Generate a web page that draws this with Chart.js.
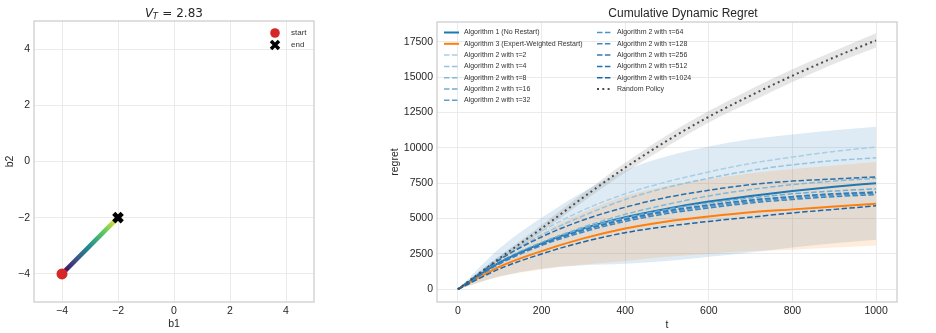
<!DOCTYPE html>
<html>
<head>
<meta charset="utf-8">
<script src="https://cdn.jsdelivr.net/npm/chart.js@4.4.1/dist/chart.umd.min.js"></script>
<style>
  html, body { margin: 0; padding: 0; background: #fff; }
  #traj { position: absolute; left: 0; top: 0; }
  #regret { position: absolute; left: 380px; top: 0; }
</style>
</head>
<body>
<canvas id="traj" width="330" height="333"></canvas>
<canvas id="regret" width="556" height="333"></canvas>
<script>
// ---- left plot: parameter trajectory ----
const bTicks = [-4, -2, 0, 2, 4];
const pathB1 = [-4, -2];
const pathB2 = [-4, -2];
const startPoint = { x: -4, y: -4 };
const endPoint = { x: -2, y: -2 };
const variationTotal = "2.83";

// ---- right plot: cumulative regret ----
const tSteps = [0, 100, 200, 300, 400, 500, 600, 700, 800, 900, 1000];
const tTicks = [0, 200, 400, 600, 800, 1000];
const regretTicks = [0, 2500, 5000, 7500, 10000, 12500, 15000, 17500];

const alg1Mean = [0, 1900, 3250, 4300, 5100, 5700, 6200, 6600, 6950, 7250, 7500];
const alg1Std = [0, 1000, 1800, 2600, 3300, 3700, 3900, 4000, 4000, 4000, 4000];
const alg3Mean = [0, 1600, 2700, 3600, 4300, 4800, 5150, 5450, 5650, 5850, 6050];
const alg3Std = [0, 700, 1300, 1850, 2300, 2500, 2650, 2750, 2850, 2900, 2950];
const randomMean = [0, 2200, 4300, 6500, 8600, 10500, 12200, 13700, 15100, 16400, 17600];
const randomStd = [0, 150, 250, 300, 350, 400, 400, 450, 450, 450, 500];

const alg2Tau2 = [0, 2300, 4100, 5600, 6750, 7600, 8300, 8900, 9350, 9750, 10050];
const alg2Tau4 = [0, 2150, 3850, 5200, 6350, 7200, 7850, 8400, 8800, 9100, 9300];
const alg2Tau8 = [0, 1900, 3300, 4400, 5300, 6000, 6600, 7050, 7400, 7650, 7850];
const alg2Tau16 = [0, 1950, 3300, 4300, 5050, 5650, 6100, 6450, 6750, 6950, 7100];
const alg2Tau32 = [0, 1900, 3200, 4200, 4950, 5500, 5950, 6300, 6550, 6750, 6900];
const alg2Tau64 = [0, 1850, 3150, 4150, 4900, 5450, 5850, 6200, 6450, 6650, 6800];
const alg2Tau128 = [0, 1800, 3100, 4050, 4800, 5350, 5750, 6100, 6350, 6550, 6700];
const alg2Tau256 = [0, 1900, 3200, 4200, 4950, 5550, 5950, 6300, 6550, 6750, 6850];
const alg2Tau512 = [0, 2100, 3700, 4900, 5800, 6500, 7000, 7400, 7650, 7800, 7950];
const alg2Tau1024 = [0, 1450, 2500, 3350, 4000, 4450, 4800, 5100, 5400, 5650, 5900];

const tauValues = [2, 4, 8, 16, 32, 64, 128, 256, 512, 1024];
const alg2Series = [alg2Tau2, alg2Tau4, alg2Tau8, alg2Tau16, alg2Tau32,
                    alg2Tau64, alg2Tau128, alg2Tau256, alg2Tau512, alg2Tau1024];
const alg2Colors = ["#a9cfe5", "#94c4df", "#7fb9da", "#6aaed6", "#59a1cf",
                    "#4a94c8", "#3c87c0", "#2f7bb9", "#2470b2", "#1c64a8"];

Chart.defaults.font.family = '"Liberation Sans", Arial, sans-serif';
Chart.defaults.color = "#262626";

const GRID = "#ebebeb";
const SPINE = "#cccccc";
const TEXT = "#262626";
const TICK_FONT = { size: 10.5 };
const LABEL_FONT = { size: 10.5 };

const minusSign = (v) => String(v).replace("-", "\u2212");

// frame around plot area, like matplotlib spines
const framePlugin = {
  id: "frame",
  afterDatasetsDraw(chart) {
    const { ctx, chartArea: a } = chart;
    ctx.save();
    ctx.strokeStyle = SPINE;
    ctx.lineWidth = 1.25;
    ctx.strokeRect(a.left, a.top, a.right - a.left, a.bottom - a.top);
    ctx.restore();
  },
};

const toXY = (ys) => tSteps.map((t, i) => ({ x: t, y: ys[i] }));

// ------------------ left chart ------------------
const viridis = ["#440154", "#3b528b", "#21918c", "#5ec962", "#fde725"];

const trajTitle = {
  id: "trajTitle",
  afterDraw(chart) {
    const ctx = chart.ctx;
    const a = chart.chartArea;
    ctx.save();
    ctx.fillStyle = TEXT;
    ctx.textBaseline = "alphabetic";
    const big = '12px "DejaVu Sans"';
    const bigIt = 'italic 12px "DejaVu Sans"';
    const sub = 'italic 8.5px "DejaVu Sans"';
    const rest = " = " + variationTotal;
    ctx.font = bigIt; const wV = ctx.measureText("V").width;
    ctx.font = sub; const wT = ctx.measureText("T").width;
    ctx.font = big; const wR = ctx.measureText(rest).width;
    let x = (a.left + a.right) / 2 - (wV + wT + wR) / 2;
    const base = 16.5;
    ctx.font = bigIt; ctx.fillText("V", x, base); x += wV - 0.5;
    ctx.font = sub; ctx.fillText("T", x, base + 2.5); x += wT + 0.5;
    ctx.font = big; ctx.fillText(rest, x, base);

    // legend: start / end
    const mx = a.right - 39;
    ctx.font = '8px "Liberation Sans", Arial, sans-serif';
    ctx.textBaseline = "middle";
    ctx.fillStyle = "#d62728";
    ctx.beginPath(); ctx.arc(mx, 33, 4.8, 0, Math.PI * 2); ctx.fill();
    ctx.strokeStyle = "#000"; ctx.lineWidth = 3.5;
    ctx.beginPath();
    ctx.moveTo(mx - 4, 45 - 4); ctx.lineTo(mx + 4, 45 + 4);
    ctx.moveTo(mx + 4, 45 - 4); ctx.lineTo(mx - 4, 45 + 4);
    ctx.stroke();
    ctx.fillStyle = "#333";
    ctx.fillText("start", a.right - 23, 33);
    ctx.fillText("end", a.right - 23, 45);
    ctx.restore();
  },
};

new Chart(document.getElementById("traj"), {
  type: "scatter",
  data: {
    datasets: [
      {
        label: "path",
        type: "line",
        data: pathB1.map((b, i) => ({ x: b, y: pathB2[i] })),
        borderWidth: 4.5,
        pointRadius: 0,
        borderCapStyle: "butt",
        borderColor: (c) => {
          const ch = c.chart;
          const xs = ch.scales.x, ys = ch.scales.y;
          if (!xs || !ys) return viridis[2];
          const x0 = xs.getPixelForValue(pathB1[0]), y0 = ys.getPixelForValue(pathB2[0]);
          const x1 = xs.getPixelForValue(pathB1[1]), y1 = ys.getPixelForValue(pathB2[1]);
          if (![x0, y0, x1, y1].every(Number.isFinite)) return viridis[2];
          const g = ch.ctx.createLinearGradient(x0, y0, x1, y1);
          viridis.forEach((col, i) => g.addColorStop(i / (viridis.length - 1), col));
          return g;
        },
        order: 3,
      },
      {
        label: "start",
        data: [startPoint],
        pointRadius: 5.5,
        backgroundColor: "#d62728",
        borderColor: "#d62728",
        borderWidth: 0,
        order: 2,
      },
      {
        label: "end",
        data: [endPoint],
        pointStyle: "crossRot",
        pointRadius: 6,
        borderColor: "#000",
        borderWidth: 4.5,
        order: 1,
      },
    ],
  },
  options: {
    responsive: false,
    animation: false,
    layout: { autoPadding: false, padding: { top: 21, right: 16, bottom: 0, left: 0 } },
    plugins: { legend: { display: false }, tooltip: { enabled: false } },
    scales: {
      x: {
        type: "linear", min: -5, max: 5,
        afterBuildTicks: (s) => { s.ticks = bTicks.map((v) => ({ value: v })); },
        afterFit: (s) => { s.height = 31; },
        grid: { color: GRID, drawTicks: false },
        border: { display: false },
        ticks: { padding: 3, font: TICK_FONT, color: TEXT, callback: minusSign },
        title: { display: true, text: "b1", font: LABEL_FONT, color: TEXT, padding: { top: 0, bottom: 3 } },
      },
      y: {
        type: "linear", min: -5, max: 5,
        afterBuildTicks: (s) => { s.ticks = bTicks.map((v) => ({ value: v })); },
        afterFit: (s) => { s.width = 34; },
        grid: { color: GRID, drawTicks: false },
        border: { display: false },
        ticks: { padding: 4, font: TICK_FONT, color: TEXT, callback: minusSign },
        title: { display: true, text: "b2", font: LABEL_FONT, color: TEXT, padding: { top: 4, bottom: 0 } },
      },
    },
  },
  plugins: [framePlugin, trajTitle],
});

// ------------------ right chart ------------------
const band = (name, mean, std, color, order) => [
  {
    label: name + " upper",
    data: toXY(mean.map((m, i) => m + std[i])),
    borderWidth: 0, pointRadius: 0, fill: "+1",
    backgroundColor: color, cubicInterpolationMode: "monotone", order,
  },
  {
    label: name + " lower",
    data: toXY(mean.map((m, i) => m - std[i])),
    borderWidth: 0, pointRadius: 0, fill: false,
    cubicInterpolationMode: "monotone", order,
  },
];

const lineSets = [
  { label: "Algorithm 1 (No Restart)", data: alg1Mean, color: "#1f77b4", width: 2, dash: [] },
  { label: "Algorithm 3 (Expert-Weighted Restart)", data: alg3Mean, color: "#ff7f0e", width: 2, dash: [] },
  ...tauValues.map((tau, i) => ({
    label: "Algorithm 2 with \u03c4=" + tau, data: alg2Series[i], color: alg2Colors[i], width: 1.5, dash: [5.5, 2.4],
  })),
  { label: "Random Policy", data: randomMean, color: "#4d4d4d", width: 2, dash: [2, 3.3] },
];

const datasets = [
  ...band("alg1", alg1Mean, alg1Std, "rgba(31,119,180,0.15)", 30),
  ...band("alg3", alg3Mean, alg3Std, "rgba(255,127,14,0.15)", 29),
  ...band("random", randomMean, randomStd, "rgba(128,128,128,0.2)", 28),
  ...lineSets.map((s, i) => ({
    label: s.label,
    data: toXY(s.data),
    borderColor: s.color,
    borderWidth: s.width,
    borderDash: s.dash,
    borderCapStyle: "butt",
    pointRadius: 0,
    fill: false,
    cubicInterpolationMode: "monotone",
    order: 20 - i,
  })),
];

const regretDecor = {
  id: "regretDecor",
  afterDraw(chart) {
    const ctx = chart.ctx;
    const a = chart.chartArea;
    ctx.save();
    ctx.fillStyle = TEXT;
    ctx.font = '12px "Liberation Sans", Arial, sans-serif';
    ctx.textAlign = "center";
    ctx.textBaseline = "alphabetic";
    ctx.fillText("Cumulative Dynamic Regret", 683 - 380, 16.7);

    // two-column legend
    ctx.textAlign = "left";
    ctx.textBaseline = "middle";
    ctx.font = '7px "Liberation Sans", Arial, sans-serif';
    const perCol = 7;
    lineSets.forEach((s, i) => {
      const col = i < perCol ? 0 : 1;
      const row = i < perCol ? i : i - perCol;
      const x0 = a.left + (col === 0 ? 7 : 160);
      const y = a.top + 10.5 + row * 11.3;
      ctx.strokeStyle = s.color;
      ctx.lineWidth = s.width;
      ctx.lineCap = "butt";
      ctx.setLineDash(s.dash);
      ctx.beginPath();
      ctx.moveTo(x0, y);
      ctx.lineTo(x0 + 15, y);
      ctx.stroke();
      ctx.setLineDash([]);
      ctx.fillStyle = "#333";
      ctx.fillText(s.label, x0 + 20, y);
    });
    ctx.restore();
  },
};

new Chart(document.getElementById("regret"), {
  type: "line",
  data: { datasets },
  options: {
    responsive: false,
    animation: false,
    layout: { autoPadding: false, padding: { top: 22, right: 39, bottom: 0, left: 0 } },
    plugins: { legend: { display: false }, tooltip: { enabled: false }, filler: { propagate: false } },
    scales: {
      x: {
        type: "linear", min: -50, max: 1050,
        afterBuildTicks: (s) => { s.ticks = tTicks.map((v) => ({ value: v })); },
        afterFit: (s) => { s.height = 31; },
        grid: { color: GRID, drawTicks: false },
        border: { display: false },
        ticks: { padding: 3, font: TICK_FONT, color: TEXT, callback: (v) => String(v) },
        title: { display: true, text: "t", font: LABEL_FONT, color: TEXT, padding: { top: 0, bottom: 2 } },
      },
      y: {
        type: "linear", min: -900, max: 18900,
        afterBuildTicks: (s) => { s.ticks = regretTicks.map((v) => ({ value: v })); },
        afterFit: (s) => { s.width = 57; },
        grid: { color: GRID, drawTicks: false },
        border: { display: false },
        ticks: { padding: 4, font: TICK_FONT, color: TEXT, callback: (v) => String(v) },
        title: { display: true, text: "regret", font: LABEL_FONT, color: TEXT, padding: { top: 9, bottom: 0 } },
      },
    },
  },
  plugins: [framePlugin, regretDecor],
});
</script>
</body>
</html>
